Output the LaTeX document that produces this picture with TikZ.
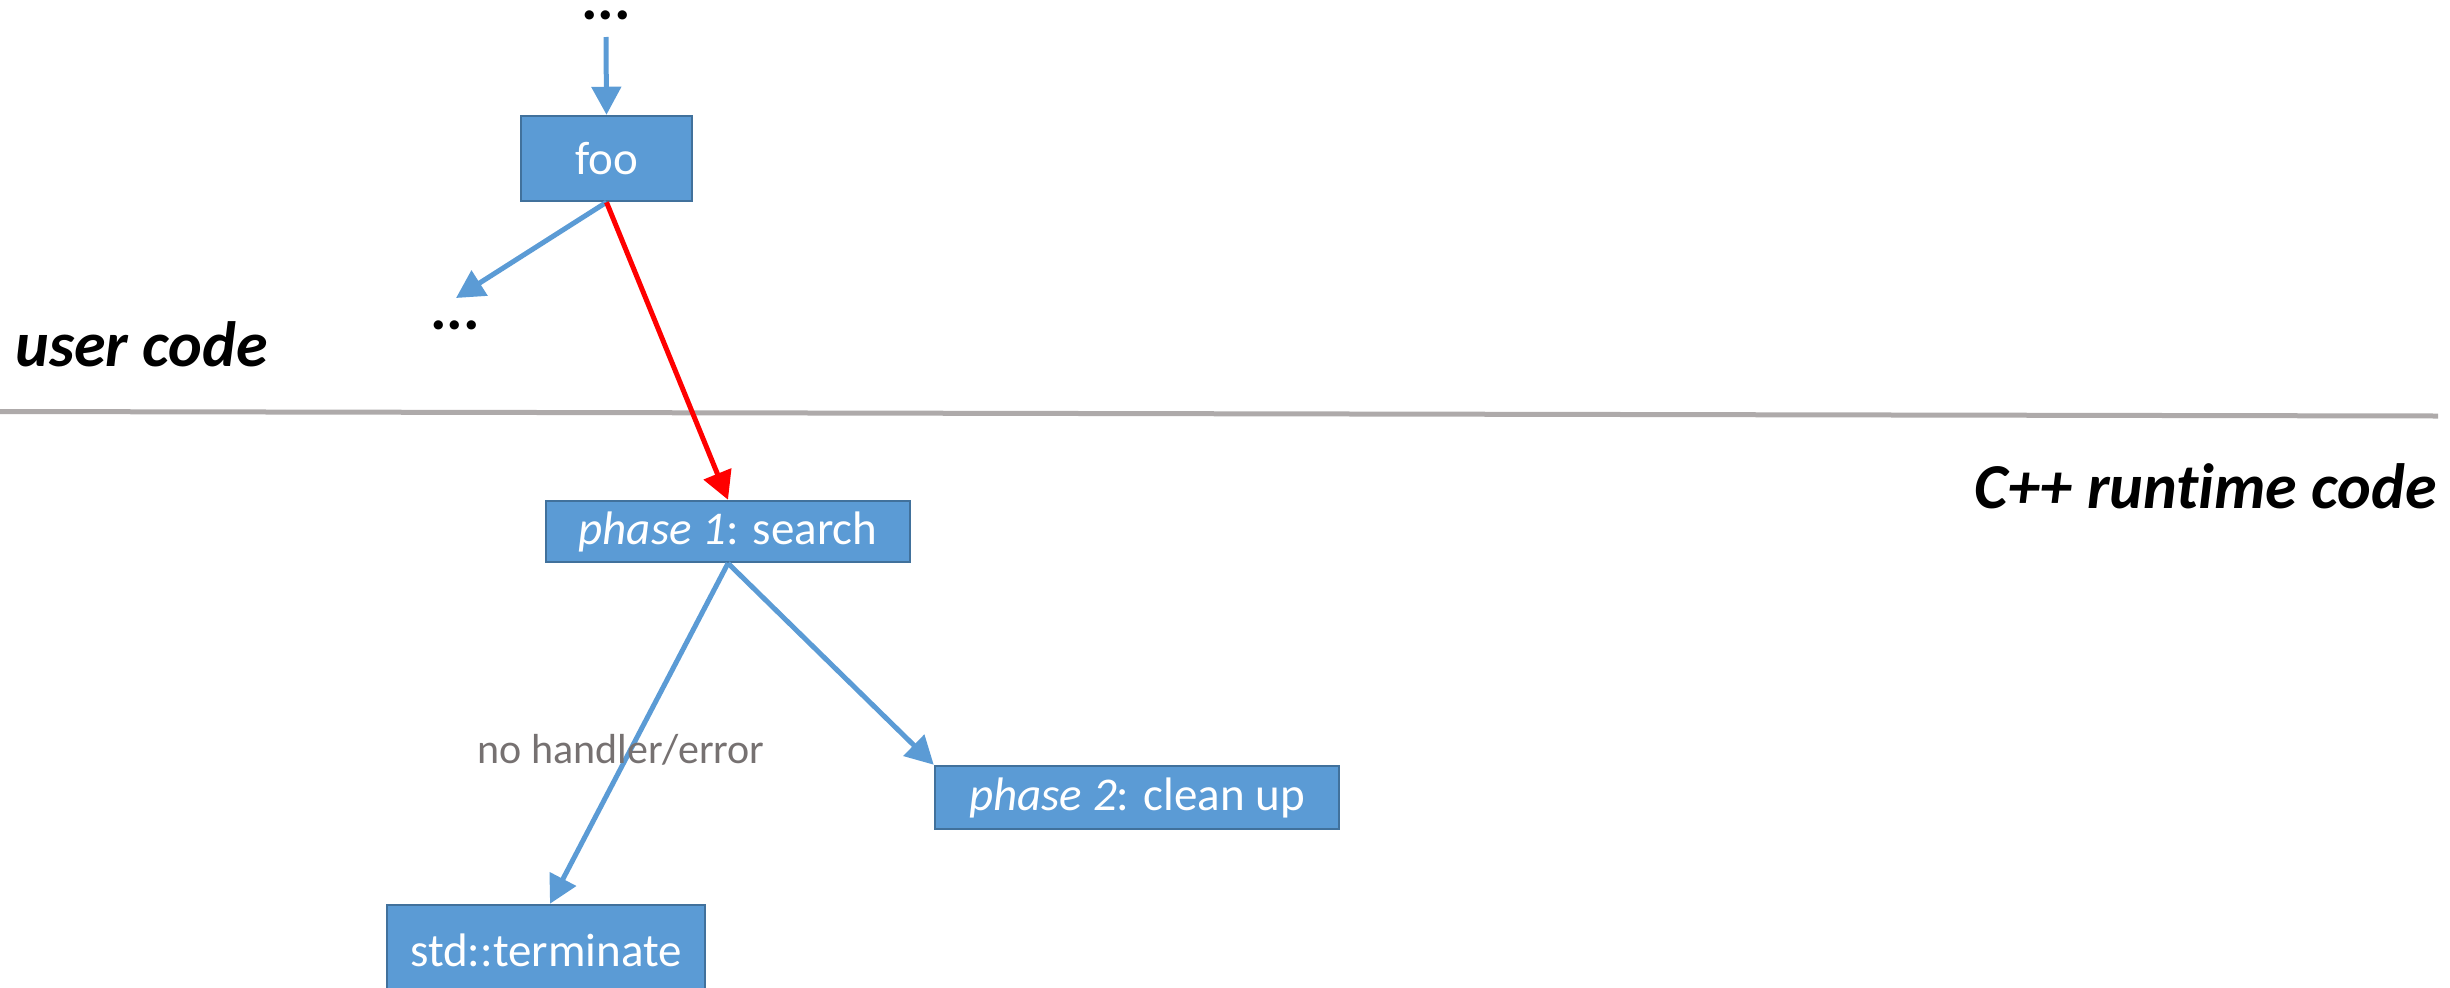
\documentclass[tikz,border=0pt]{standalone}
\usepackage{fontspec}
\setmainfont{Carlito}[Ligatures=NoCommon]
\usetikzlibrary{arrows.meta,calc}

\definecolor{boxfill}{HTML}{5B9BD5}
\definecolor{boxline}{HTML}{41719C}
\definecolor{divider}{HTML}{AEAAAA}
\definecolor{labelgray}{HTML}{767171}
\definecolor{hotred}{HTML}{FF0000}

\tikzset{
  block/.style={draw=boxline, line width=1pt, fill=boxfill, text=white,
    inner sep=0pt, font=\fontsize{18.8}{22}\selectfont},
  flow/.style={draw=boxfill, line width=2pt,
    -{Triangle[length=11.2pt,width=11.6pt]}},
  throwpath/.style={draw=hotred, line width=2pt,
    -{Triangle[length=11.2pt,width=11.6pt]}},
  region/.style={font=\fontsize{25.6}{29}\selectfont\bfseries\itshape, inner sep=0pt},
  ellip/.style={font=\fontsize{24.8}{28}\selectfont\bfseries, inner sep=0pt,
    text height=0.14em, text depth=0pt},
  edgelabel/.style={font=\fontsize{16.8}{20}\selectfont, text=labelgray, inner sep=0pt}
}

\begin{document}
\begin{tikzpicture}[x=0.4pt, y=-0.4pt]
  \useasboundingbox (0,0) rectangle (2450,987);

  % boundary between user code and runtime code
  \coordinate (divL) at (0,411.5);
  \coordinate (divR) at (2438,416);
  \draw[divider, line width=2pt] (divL) -- (divR);

  \node[region, anchor=base west] (user) at (15,366) {user code};
  \node[region, anchor=base east] (runtime) at (2437,508) {C++ runtime code};

  % call chain
  \node[ellip, anchor=base] (above) at (606,19) {...};
  \coordinate (aboveEnd) at (606,37);
  \node[block, minimum width=171*0.4pt, minimum height=85*0.4pt] (foo) at (606.5,158.5) {foo};
  \node[ellip, anchor=base] (callee) at (455,329) {...};
  \coordinate (calleeTip) at (456,298);

  % unwinding phases
  \node[block, minimum width=364*0.4pt, minimum height=61*0.4pt] (search) at (728,531.5) {\textit{phase 1}: search};
  \node[block, minimum width=404*0.4pt, minimum height=63*0.4pt] (cleanup) at (1137,797.5) {\textit{phase 2}: clean up};
  \node[block, minimum width=318*0.4pt, minimum height=90*0.4pt] (term) at (546,950) {std::terminate};

  \draw[flow] (aboveEnd) -- (foo.north);
  \draw[flow] (foo.south) -- (calleeTip);
  \draw[throwpath] (foo.south) -- (search.north);
  \draw[flow] (search.south) -- ($(term.north)+(4,0)$);
  \draw[flow] (search.south) -- (cleanup.north west);

  \node[edgelabel] (nohandler) at (621,750) {no handler/error};
\end{tikzpicture}
\end{document}
